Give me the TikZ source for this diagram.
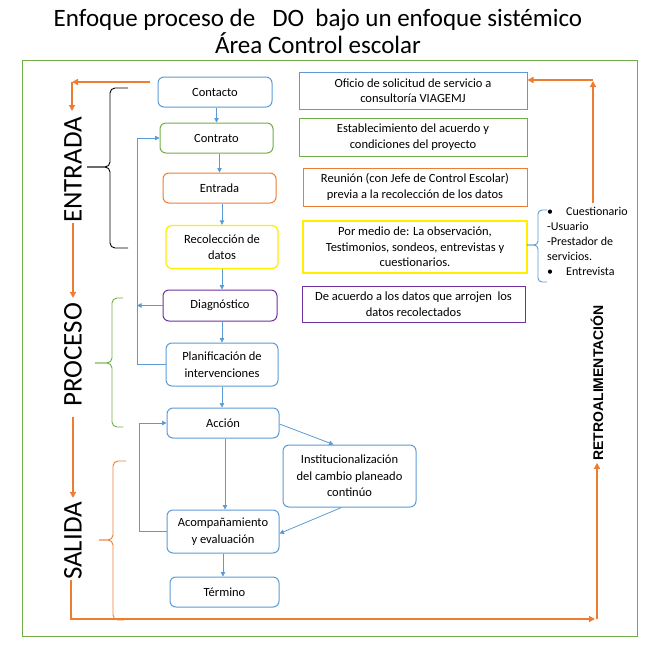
\documentclass[tikz,border=0pt]{standalone}
\usepackage{fontspec}
\setmainfont{Carlito}
\newfontfamily\arialf{Liberation Sans}
\usetikzlibrary{arrows.meta}
\definecolor{cblue}{RGB}{91,155,213}
\definecolor{cgreen}{RGB}{112,173,71}
\definecolor{corange}{RGB}{237,125,49}
\definecolor{cyellow}{RGB}{255,240,0}
\definecolor{cpurple}{RGB}{112,48,160}
\begin{document}
\begin{tikzpicture}[x=1pt,y=-1pt,
 rbox/.style={draw, rounded corners=6pt, line width=1pt, align=center, inner sep=0pt, font=\fontsize{12.5}{16.5}\selectfont},
 sbox/.style={draw, line width=1pt, align=center, inner sep=0pt, font=\fontsize{12.5}{15.5}\selectfont},
 barrow/.style={draw=cblue, line width=0.8pt, -{Triangle[length=4.5pt,width=4.5pt]}},
 oarrow/.style={draw=corange, line width=2pt, -{Triangle[length=6pt,width=6pt]}},
 oline/.style={draw=corange, line width=2pt},
 bigl/.style={font=\fontsize{27}{27}\selectfont, rotate=90, inner sep=0pt},
 brc/.style={line width=0.9pt, rounded corners=5pt},
]
\useasboundingbox (0,0) rectangle (652,654);
% title
\node[font=\fontsize{25}{25}\selectfont, anchor=base] (t1) at (318,26) {Enfoque proceso de\ \ \ DO\ \ bajo un enfoque sistémico};
\node[font=\fontsize{25}{25}\selectfont, anchor=base] (t2) at (318,53) {Área Control escolar};
% frame
\draw[cgreen, line width=1pt] (22,60) rectangle (637,636);

% left flow nodes
\node[rbox, draw=cblue, minimum width=114pt, minimum height=30pt] (contacto) at (215,92) {Contacto};
\node[rbox, draw=cgreen, minimum width=113pt, minimum height=30pt] (contrato) at (216.5,138) {Contrato};
\node[rbox, draw=corange, minimum width=113pt, minimum height=30pt] (entrada) at (219.5,188) {Entrada};
\node[rbox, draw=cyellow, line width=1.3pt, minimum width=112pt, minimum height=43pt] (recol) at (222,247) {Recolección de\\datos};
\node[rbox, draw=cpurple, minimum width=114pt, minimum height=31pt] (diag) at (220,305.5) {Diagnóstico};
\node[rbox, draw=cblue, minimum width=112pt, minimum height=43pt] (plan) at (222,364.5) {Planificación de\\intervenciones};
\node[rbox, draw=cblue, minimum width=112pt, minimum height=30pt] (accion) at (223,423) {Acción};
\node[rbox, draw=cblue, minimum width=133pt, minimum height=62pt] (inst) at (349.5,476) {Institucionalización\\del cambio planeado\\continúo};
\node[rbox, draw=cblue, minimum width=112pt, minimum height=43pt] (acomp) at (223,531.5) {Acompañamiento\\y evaluación};
\node[rbox, draw=cblue, minimum width=109pt, minimum height=30pt] (termino) at (224.5,592) {Término};

% right boxes
\node[sbox, draw=cblue, minimum width=228pt, minimum height=37pt] (oficio) at (413,90.5) {Oficio de solicitud de servicio a\\consultoría VIAGEMJ};
\node[sbox, draw=cgreen, minimum width=228pt, minimum height=38pt] (estab) at (413,137) {Establecimiento del acuerdo y\\condiciones del proyecto};
\node[sbox, draw=corange, minimum width=224pt, minimum height=38pt] (reunion) at (415,187) {Reunión (con Jefe de Control Escolar)\\previa a la recolección de los datos};
\node[sbox, draw=cyellow, line width=1.3pt, minimum width=224pt, minimum height=52pt] (medio) at (415,247) {Por medio de: La observación,\\Testimonios, sondeos, entrevistas y\\cuestionarios.};
\node[sbox, draw=cpurple, minimum width=223pt, minimum height=36pt] (acuerdo) at (413.5,304) {De acuerdo a los datos que arrojen\ \ los\\datos recolectados};

% list
\node[align=left, anchor=north west, inner sep=0pt, font=\fontsize{12}{15}\selectfont] (lista) at (547,207) {\textbullet\hspace{13pt}Cuestionario\\-Usuario\\-Prestador de\\servicios.\\\textbullet\hspace{13pt}Entrevista};
\draw[cblue, brc, rounded corners=4pt] (547,210) -- (538,210) -- (538,245) -- (527,245);
\draw[cblue, brc, rounded corners=4pt] (527,245) -- (538,245) -- (538,282) -- (547,282);

% blue connectors
\draw[barrow] (contacto.south -| contrato.north) -- (contrato.north);
\draw[barrow] (contrato.south -| entrada.north) -- (entrada.north);
\draw[barrow] (entrada.south -| recol.north) -- (recol.north);
\draw[barrow] (recol.south) -- (recol.south |- diag.north);
\draw[barrow] (diag.south -| plan.north) -- (plan.north);
\draw[barrow] (plan.south) -- (plan.south |- accion.north);
\coordinate (lp) at (137,0);
\coordinate (lp2) at (139,0);
\draw[barrow] (plan.west) -- (plan.west -| lp) |- (contrato.west);
\draw[barrow] (diag.west) -- (diag.west -| lp);
\draw[barrow] (acomp.west) -- (acomp.west -| lp2) |- (accion.west);
\draw[barrow] ([xshift=2pt]accion.south) -- ([xshift=2pt]accion.south |- acomp.north);
\draw[barrow] (acomp.south) -- (acomp.south |- termino.north);
\draw[barrow] ([yshift=-1pt]accion.east) -- ([xshift=-16pt]inst.north);
\draw[barrow] ([xshift=-8pt]inst.south) -- ([yshift=-2pt]acomp.east);

% big labels
\node[bigl] (lentrada) at (73,170) {ENTRADA};
\node[bigl] (lproceso) at (73,355) {PROCESO};
\node[bigl] (lsalida) at (73,541) {SALIDA};
\node[font=\arialf\bfseries\fontsize{14}{14}\selectfont, rotate=90, inner sep=0pt] (lretro) at (597,383) {RETROALIMENTACIÓN};

% orange arrows
\coordinate (c1) at (72,82);
\draw[oarrow] ([xshift=-8pt,yshift=10pt]contacto.west) -- (c1);
\draw[oline] (c1) -- ++(0,2);
\draw[oarrow] (c1) -- (72,111);
\draw[oarrow] (lentrada.west) -- ([yshift=5pt]lproceso.east);
\draw[oarrow] ([yshift=-10pt]lproceso.west) -- ([yshift=4pt]lsalida.east);
\coordinate (c0) at (71,580);
\coordinate (c2) at (71,619);
\coordinate (c3) at (597,619);
\draw[oline] (c0) -- ([yshift=-1pt]c2);
\draw[oarrow] (c2) -- ([xshift=-2pt]c3);
\draw[oarrow] (c3) -- ([yshift=-2pt]lretro.west);
\coordinate (c4) at (593,80);
\draw[oarrow] (593,203) -- ([yshift=-1pt]c4);
\draw[oarrow] (c4) -- (oficio.east |- c4);

% braces
\draw[brc] (128,88) -- (110,88) -- (110,167) -- (87,167);
\draw[brc] (87,167) -- (110,167) -- (110,248) -- (128,248);
\draw[brc, cgreen] (123,298) -- (112,298) -- (112,363) -- (95,363);
\draw[brc, cgreen] (95,363) -- (112,363) -- (112,427) -- (123,427);
\draw[brc, corange] (126,461) -- (113,461) -- (113,540) -- (99,540);
\draw[brc, corange] (99,540) -- (113,540) -- (113,620) -- (124,620);
\end{tikzpicture}
\end{document}
